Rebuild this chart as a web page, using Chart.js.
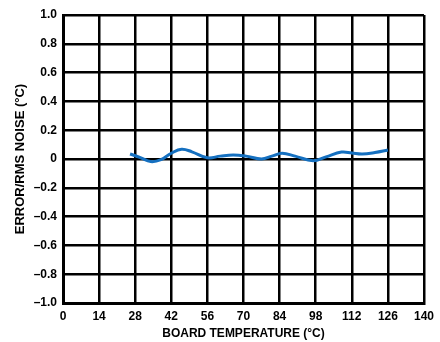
<!DOCTYPE html>
<html>
<head>
<meta charset="utf-8">
<script src="https://cdn.jsdelivr.net/npm/chart.js@4"></script>
<style>
  html, body { margin: 0; padding: 0; background: #fff; }
  #wrap { width: 440px; height: 342px; }
</style>
</head>
<body>
<div id="wrap"><canvas id="chart" width="440" height="342"></canvas></div>
<script>
  // board temperature (°C) and error/rms noise (°C)
  const temps = [26, 30, 34, 38, 42, 46, 50, 56, 61, 66, 71, 77, 81, 85, 90, 97, 102, 108, 112, 116, 121, 126];
  const errors = [0.035, 0.01, -0.018, -0.005, 0.04, 0.068, 0.05, 0.008, 0.02, 0.028, 0.02, 0.0, 0.02, 0.04, 0.02, -0.012, 0.015, 0.048, 0.042, 0.035, 0.045, 0.062];
  const xTicks = [0, 14, 28, 42, 56, 70, 84, 98, 112, 126, 140];
  const yTicks = [-1.0, -0.8, -0.6, -0.4, -0.2, 0, 0.2, 0.4, 0.6, 0.8, 1.0];

  const font = { family: "'Liberation Sans', Arial, sans-serif", size: 12, weight: "bold" };

  function fmtY(v) {
    if (Math.abs(v) < 1e-9) return "0";
    const s = Math.abs(v).toFixed(1);
    return v < 0 ? "\u2013" + s : s;
  }

  new Chart(document.getElementById("chart"), {
    type: "line",
    data: {
      datasets: [
        {
          data: temps.map((t, i) => ({ x: t, y: errors[i] })),
          borderColor: "#1570c0",
          borderWidth: 3,
          pointRadius: 0,
          tension: 0.4,
          fill: false,
        },
      ],
    },
    options: {
      responsive: false,
      animation: false,
      parsing: false,
      layout: { padding: { left: 0, right: 15, top: 15, bottom: 0 } },
      plugins: { legend: { display: false }, tooltip: { enabled: false } },
      scales: {
        x: {
          type: "linear",
          min: 0,
          max: 140,
          afterBuildTicks: (s) => { s.ticks = xTicks.map((v) => ({ value: v })); },
          afterFit: (s) => { s.height = 39; },
          grid: { color: "#000", lineWidth: 2.5, drawTicks: false },
          border: { color: "#000", width: 3 },
          ticks: { color: "#000", font, padding: 6, maxRotation: 0 },
          title: { display: true, text: "BOARD TEMPERATURE (°C)", color: "#000", font: { ...font, size: 12 }, padding: { top: 0, bottom: 1 } },
        },
        y: {
          type: "linear",
          min: -1,
          max: 1,
          afterBuildTicks: (s) => { s.ticks = yTicks.map((v) => ({ value: v })); },
          afterFit: (s) => { s.width = 63; },
          grid: { color: "#000", lineWidth: 2.5, drawTicks: false },
          border: { color: "#000", width: 3 },
          ticks: { color: "#000", font, padding: 6, callback: (v) => fmtY(v) },
          title: { display: true, text: "ERROR/RMS NOISE (°C)", color: "#000", font: { ...font, size: 13 }, padding: { top: 13, bottom: 0 } },
        },
      },
    },
  });
</script>
</body>
</html>
